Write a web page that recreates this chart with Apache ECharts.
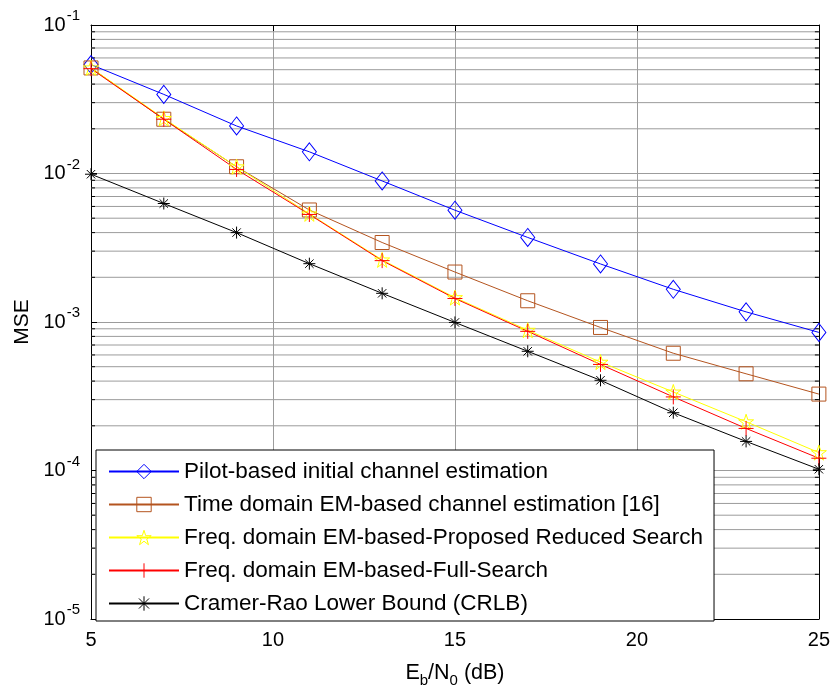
<!DOCTYPE html>
<html>
<head>
<meta charset="utf-8">
<script src="https://cdn.jsdelivr.net/npm/echarts@6/dist/echarts.min.js"></script>
<style>
  html, body { margin: 0; padding: 0; background: #fff; }
  #chart { width: 833px; height: 693px; }
</style>
</head>
<body>
<div id="chart"></div>
<script>
// Eb/N0 sweep (dB)
const snrDb = [5, 7, 9, 11, 13, 15, 17, 19, 21, 23, 25];

// MSE of each estimator
const pilotMse   = [0.0541, 0.0341, 0.0209, 0.0140, 0.00891, 0.00566, 0.00371, 0.00246, 0.00166, 0.00117, 0.000851];
const timeEmMse  = [0.0514, 0.0232, 0.0111, 0.00568, 0.00343, 0.00217, 0.00139, 0.000919, 0.000616, 0.000448, 0.000327];
const reducedMse = [0.0515, 0.0235, 0.0111, 0.00535, 0.00262, 0.00146, 0.000881, 0.000537, 0.000338, 0.000213, 0.000132];
const fullMse    = [0.0508, 0.0232, 0.01065, 0.00530, 0.00259, 0.00144, 0.000865, 0.000518, 0.000313, 0.000192, 0.000121];
const crlbMse    = [0.00989, 0.00628, 0.00400, 0.00247, 0.00156, 0.000993, 0.000635, 0.000405, 0.000245, 0.000157, 0.000102];

const seriesNames = [
  'Pilot-based initial channel estimation',
  'Time domain EM-based channel estimation [16]',
  'Freq. domain EM-based-Proposed Reduced Search',
  'Freq. domain EM-based-Full-Search',
  'Cramer-Rao Lower Bound (CRLB)'
];

// axis ranges and tick values
const xTicks = [5, 10, 15, 20, 25];
const yDecades = [1e-5, 1e-4, 1e-3, 1e-2, 1e-1];

// minor log grid positions: 2..9 within every decade
const yMinor = [];
for (let d = 0; d < yDecades.length - 1; d++) {
  for (let m = 2; m <= 9; m++) yMinor.push(+(yDecades[d] * m).toPrecision(3));
}

const FONT = 'Arial, "Liberation Sans", sans-serif';
const GRID_GRAY = '#9c9c9c';

const starPath = 'path://M50,0 L61.8,35.5 L100,35.5 L69.1,57.5 L80.9,95 L50,72 L19.1,95 L30.9,57.5 L0,35.5 L38.2,35.5 Z';
const plusPath = 'path://M0,50 L100,50 M50,0 L50,100';
const asteriskPath = 'path://M0,50 L100,50 M50,0 L50,100 M15,15 L85,85 M85,15 L15,85';

function lineSeries(name, data, color, symbol, size) {
  return {
    name: name,
    type: 'line',
    data: snrDb.map((x, i) => [x, data[i]]),
    color: color,
    symbol: symbol,
    symbolSize: size,
    showAllSymbol: true,
    lineStyle: { color: color, width: 1 },
    itemStyle: { color: 'transparent', borderColor: color, borderWidth: 1 },
    emphasis: { disabled: true },
    animation: false,
    z: 3
  };
}

const chart = echarts.init(document.getElementById('chart'), null, { renderer: 'canvas' });

const option = {
  backgroundColor: '#fff',
  animation: false,
  grid: { left: 91, right: 11, top: 25, bottom: 69 },
  legend: {
    data: seriesNames,
    orient: 'vertical',
    left: 96,
    top: 450,
    backgroundColor: '#fff',
    borderColor: '#000',
    borderWidth: 1,
    padding: [10, 11, 6, 12],
    itemGap: 10,
    itemWidth: 70,
    itemHeight: 18,
    itemTextGap: 8,
    selectedMode: false,
    itemStyle: { color: 'transparent', borderWidth: 1 },
    textStyle: { fontFamily: FONT, fontSize: 22.5, lineHeight: 22, color: '#000' }
  },
  xAxis: [
    {
      type: 'value', min: 5, max: 25, interval: 5,
      axisLine: { lineStyle: { color: '#000', width: 1 } },
      axisTick: { inside: true, length: 6, lineStyle: { color: '#000' } },
      axisLabel: { fontFamily: FONT, fontSize: 20, color: '#000', margin: 11 },
      splitLine: { show: true, lineStyle: { color: GRID_GRAY, width: 1 } },
      name: '{n|E}{s|b}{n|/N}{s|0}{n| (dB)}',
      nameLocation: 'middle',
      nameGap: 40,
      nameTextStyle: {
        fontFamily: FONT, color: '#000',
        rich: {
          n: { fontFamily: FONT, fontSize: 21.5, color: '#000' },
          s: { fontFamily: FONT, fontSize: 15, color: '#000', padding: [14, 0, 0, 0] }
        }
      }
    },
    {
      type: 'value', min: 5, max: 25, interval: 5, position: 'top',
      axisLine: { lineStyle: { color: '#000', width: 1 } },
      axisTick: { inside: true, length: 6, lineStyle: { color: '#000' } },
      axisLabel: { show: false },
      splitLine: { show: false }
    }
  ],
  yAxis: [
    {
      type: 'log', logBase: 10, min: 1e-5, max: 1e-1,
      axisLine: { lineStyle: { color: '#000', width: 1 } },
      axisTick: { inside: true, length: 6, lineStyle: { color: '#000' } },
      axisLabel: {
        fontFamily: FONT, color: '#000', margin: 11,
        formatter: function (v) {
          const e = Math.round(Math.log10(v));
          return '{b|10}{e|' + e + '}';
        },
        rich: {
          b: { fontFamily: FONT, fontSize: 20, color: '#000' },
          e: { fontFamily: FONT, fontSize: 15, color: '#000', padding: [0, 0, 18, 1] }
        }
      },
      splitLine: { show: true, lineStyle: { color: GRID_GRAY, width: 1 } },
      name: 'MSE',
      nameLocation: 'middle',
      nameGap: 58,
      nameTextStyle: { fontFamily: FONT, fontSize: 21, color: '#000' }
    },
    {
      type: 'log', logBase: 10, min: 1e-5, max: 1e-1, position: 'right',
      axisLine: { lineStyle: { color: '#000', width: 1 } },
      axisTick: { inside: true, length: 6, lineStyle: { color: '#000' } },
      axisLabel: { show: false },
      splitLine: { show: false }
    }
  ],
  series: [
    {
      // minor log grid lines with inner ticks on both vertical axes
      type: 'custom',
      silent: true,
      z: 1,
      data: yMinor.map(v => [5, v]),
      encode: { x: 0, y: 1 },
      renderItem: function (params, api) {
        const cs = params.coordSys;
        const y = api.coord([5, api.value(1)])[1];
        const x0 = cs.x, x1 = cs.x + cs.width;
        return {
          type: 'group',
          children: [
            { type: 'line', shape: { x1: x0, y1: y, x2: x1, y2: y }, style: { stroke: GRID_GRAY, lineWidth: 1 } },
            { type: 'line', shape: { x1: x0, y1: y, x2: x0 + 4, y2: y }, style: { stroke: '#000', lineWidth: 1 } },
            { type: 'line', shape: { x1: x1 - 4, y1: y, x2: x1, y2: y }, style: { stroke: '#000', lineWidth: 1 } }
          ]
        };
      }
    },
    lineSeries(seriesNames[0], pilotMse, '#0000ff', 'diamond', [14, 18]),
    lineSeries(seriesNames[1], timeEmMse, '#b4541f', 'rect', 14),
    lineSeries(seriesNames[2], reducedMse, '#ffff00', starPath, 15),
    lineSeries(seriesNames[3], fullMse, '#ff0000', plusPath, 15),
    lineSeries(seriesNames[4], crlbMse, '#000000', asteriskPath, 12)
  ]
};

chart.setOption(option);
</script>
</body>
</html>
